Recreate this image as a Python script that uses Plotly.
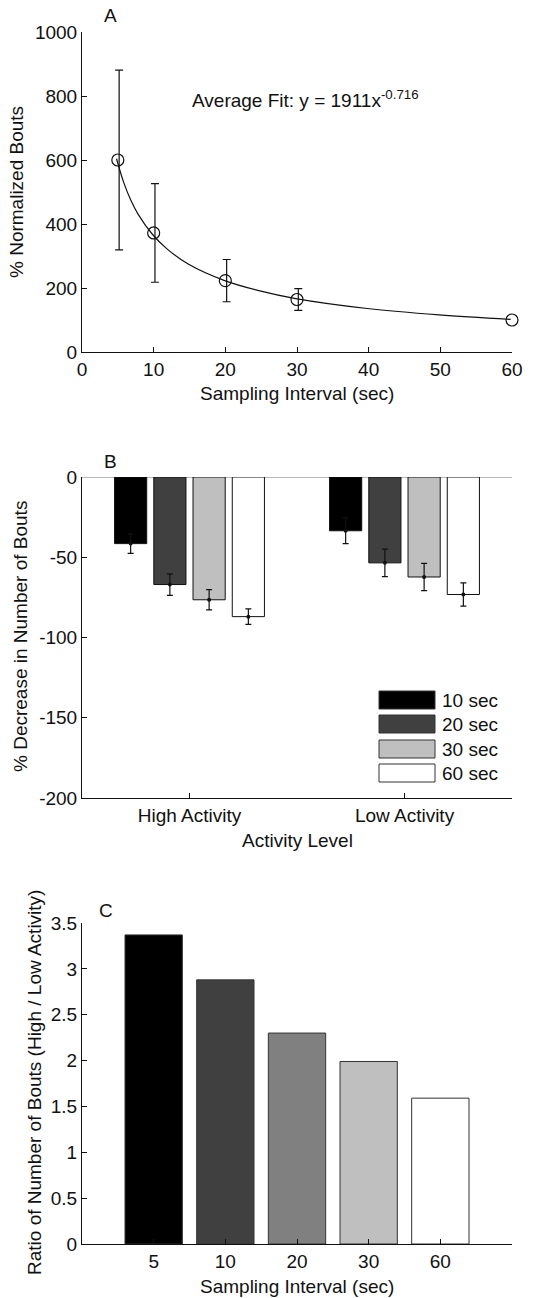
import plotly.graph_objects as go

# ---------------- Data ----------------
# Panel A
a_x = [5, 10, 20, 30, 60]
a_y = [600, 372, 223, 164, 100]
a_err = [281, 154, 66, 34, 0]   # no error bar drawn for the 60 s reference point
fit_x = [5, 6, 7, 8, 10, 12, 15, 20, 25, 30, 40, 50, 60]
fit_y = [604, 530, 474, 431, 368, 323, 275, 224, 191, 167, 136, 116, 102]
fit_label = "Average Fit: y = 1911x<sup>-0.716</sup>"

# Panel B
b_categories = ["High Activity", "Low Activity"]
b_series = ["10 sec", "20 sec", "30 sec", "60 sec"]
b_values = {
    "10 sec": [-41.5, -33.5],
    "20 sec": [-67.0, -53.5],
    "30 sec": [-76.5, -62.3],
    "60 sec": [-87.0, -73.2],
}
b_errors = {
    "10 sec": [6.1, 8.0],
    "20 sec": [6.7, 8.6],
    "30 sec": [6.3, 8.5],
    "60 sec": [4.8, 7.2],
}
b_colors = ["#000000", "#404040", "#bfbfbf", "#ffffff"]
b_tickvals = [0, -50, -100, -150, -200]
b_ticktext = ["0", "-50", "-100", "-150", "-200"]

# Panel C
c_categories = ["5", "10", "20", "30", "60"]
c_values = [3.37, 2.88, 2.30, 1.99, 1.59]
c_colors = ["#000000", "#404040", "#808080", "#bfbfbf", "#ffffff"]

# ---------------- Layout geometry ----------------
W, H = 560, 1298
FONT = "Liberation Sans, Arial, sans-serif"
FS = 19
TXT = "#111111"

def px_x(p):
    return p / W

def px_y(p):
    return 1 - p / H

XL, XR, XR_WIDE = 82, 512, 520
xdom = [px_x(XL), px_x(XR)]
xdom_wide = [px_x(XL), px_x(XR_WIDE)]   # slightly wider clip area so the 60 s circle is not cut
a_range = [0, 60]
a_range_wide = [0, a_range[1] * (XR_WIDE - XL) / (XR - XL)]
ydomA = [px_y(352), px_y(32)]
ydomB = [px_y(798), px_y(477)]
ydomC = [px_y(1244), px_y(923)]

fig = go.Figure()

# Panel A
fig.add_trace(go.Scatter(x=fit_x, y=fit_y, mode="lines", line=dict(color="#111111", width=1.2, shape="spline"),
                         xaxis="x", yaxis="y", showlegend=False, hoverinfo="skip"))
has_err = [i for i, e in enumerate(a_err) if e > 0]
fig.add_trace(go.Scatter(x=[a_x[i] for i in has_err], y=[a_y[i] for i in has_err], mode="markers",
                         marker=dict(size=1, color="rgba(0,0,0,0)"),
                         error_y=dict(type="data", array=[a_err[i] for i in has_err], color="#111111",
                                      thickness=1.2, width=4),
                         xaxis="x", yaxis="y", showlegend=False, hoverinfo="skip"))
fig.add_trace(go.Scatter(x=a_x, y=a_y, mode="markers",
                         marker=dict(symbol="circle-open", size=12, color="#111111", line=dict(width=1.2)),
                         xaxis="x4", yaxis="y", showlegend=False))

# Panel B
for s, col in zip(b_series, b_colors):
    fig.add_trace(go.Bar(x=b_categories, y=b_values[s], name=s, offsetgroup=s,
                         marker=dict(color=col, line=dict(color="#111111", width=1)),
                         error_y=dict(type="data", array=b_errors[s], color="#111111", thickness=1.2, width=3),
                         xaxis="x2", yaxis="y2", showlegend=False))
for s in b_series:
    fig.add_trace(go.Scatter(x=b_categories, y=b_values[s], mode="markers", offsetgroup=s,
                             marker=dict(color="#111111", size=4), xaxis="x2", yaxis="y2",
                             showlegend=False, hoverinfo="skip"))

# Panel C
fig.add_trace(go.Bar(x=c_categories, y=c_values, width=0.8,
                     marker=dict(color=c_colors, line=dict(color="#333333", width=1)),
                     xaxis="x3", yaxis="y3", showlegend=False))

axis_common = dict(showline=True, linecolor="#111111", linewidth=1, ticks="inside", ticklen=5,
                   tickcolor="#111111", showgrid=False, zeroline=False, automargin=False,
                   tickfont=dict(family=FONT, size=FS, color=TXT))

fig.update_layout(
    width=W, height=H,
    margin=dict(l=0, r=0, t=0, b=0),
    paper_bgcolor="white", plot_bgcolor="rgba(0,0,0,0)",
    font=dict(family=FONT, size=FS, color=TXT),
    barmode="group", bargap=0.27, bargroupgap=0.18,
    scattermode="group", scattergap=0.27,
    xaxis=dict(domain=xdom, anchor="y", range=a_range, dtick=10, **axis_common),
    xaxis4=dict(domain=xdom_wide, anchor="y", range=a_range_wide, visible=False, showgrid=False,
                zeroline=False, automargin=False),
    yaxis=dict(domain=ydomA, anchor="x", range=[0, 1000], dtick=200, **axis_common),
    xaxis2=dict(domain=xdom, anchor="y2", type="category", range=[-0.5, 1.5], **axis_common),
    yaxis2=dict(domain=ydomB, anchor="x2", range=[-200, 0], tickvals=b_tickvals, ticktext=b_ticktext,
                **{**axis_common, "zeroline": True}, zerolinecolor="#b8b8b8", zerolinewidth=1),
    xaxis3=dict(domain=xdom, anchor="y3", type="category", range=[-1, 5], **axis_common),
    yaxis3=dict(domain=ydomC, anchor="x3", range=[0, 3.5], dtick=0.5, **axis_common),
    showlegend=False,
)

ann = []
# panel letters
ann.append(dict(text="A", x=px_x(110), y=px_y(16), xref="paper", yref="paper", showarrow=False,
                xanchor="center", yanchor="middle"))
ann.append(dict(text="B", x=px_x(110), y=px_y(462), xref="paper", yref="paper", showarrow=False,
                xanchor="center", yanchor="middle"))
ann.append(dict(text="C", x=px_x(106), y=px_y(910), xref="paper", yref="paper", showarrow=False,
                xanchor="center", yanchor="middle"))
# fit label
ann.append(dict(text=fit_label, x=15, y=790, xref="x", yref="y", showarrow=False,
                xanchor="left", yanchor="middle"))
# axis titles
ann.append(dict(text="Sampling Interval (sec)", x=px_x(297), y=px_y(393), xref="paper", yref="paper",
                showarrow=False, xanchor="center", yanchor="middle"))
ann.append(dict(text="% Normalized Bouts", x=px_x(16), y=px_y(192), xref="paper", yref="paper",
                showarrow=False, xanchor="center", yanchor="middle", textangle=-90))
ann.append(dict(text="Activity Level", x=px_x(297), y=px_y(840), xref="paper", yref="paper",
                showarrow=False, xanchor="center", yanchor="middle"))
ann.append(dict(text="% Decrease in Number of Bouts", x=px_x(20), y=px_y(637), xref="paper", yref="paper",
                showarrow=False, xanchor="center", yanchor="middle", textangle=-90))
ann.append(dict(text="Sampling Interval (sec)", x=px_x(297), y=px_y(1286), xref="paper", yref="paper",
                showarrow=False, xanchor="center", yanchor="middle"))
ann.append(dict(text="Ratio of Number of Bouts (High / Low Activity)", x=px_x(34), y=px_y(1083),
                xref="paper", yref="paper", showarrow=False, xanchor="center", yanchor="middle",
                textangle=-90))

# manual legend for panel B (big swatches)
shapes = []
row_top = [691, 715, 740, 764]
for s, col, top in zip(b_series, b_colors, row_top):
    shapes.append(dict(type="rect", xref="paper", yref="paper",
                       x0=px_x(379), x1=px_x(435), y0=px_y(top + 18), y1=px_y(top),
                       fillcolor=col, line=dict(color="#333333", width=1)))
    ann.append(dict(text=s, x=px_x(440), y=px_y(top + 9), xref="paper", yref="paper", showarrow=False,
                    xanchor="left", yanchor="middle"))

fig.update_layout(annotations=ann, shapes=shapes)

fig.write_html("out.html", config={"displayModeBar": False},
               post_script="document.body.style.margin='0px';document.body.style.overflow='hidden';")
